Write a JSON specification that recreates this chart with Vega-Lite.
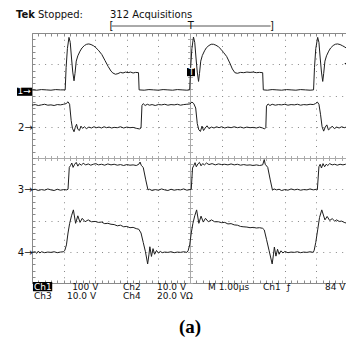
{
"$schema": "https://vega.github.io/schema/vega-lite/v6.json",
"width": 316, "height": 250,
"autosize": {"type": "none"},
"padding": {"left": 32, "top": 33, "right": 0, "bottom": 54},
"background": "white",
"config": {"view": {"stroke": null}, "axis": {"labels": false, "grid": false, "domainColor": "#8a8a8a", "tickColor": "#8a8a8a", "tickSize": 3, "domainWidth": 1, "tickWidth": 1}},
"datasets": {
"traces": [
{"ch":"1","t":0,"v":2.18},{"ch":"1","t":0.15,"v":2.17},{"ch":"1","t":0.3,"v":2.19},{"ch":"1","t":0.45,"v":2.18},{"ch":"1","t":0.6,"v":2.17},{"ch":"1","t":0.75,"v":2.19},{"ch":"1","t":0.9,"v":2.18},{"ch":"1","t":1.05,"v":2.18},
{"ch":"1","t":1.08,"v":2.9},{"ch":"1","t":1.12,"v":3.5},{"ch":"1","t":1.17,"v":3.86},{"ch":"1","t":1.21,"v":3.7},{"ch":"1","t":1.25,"v":3.2},{"ch":"1","t":1.29,"v":2.75},{"ch":"1","t":1.33,"v":2.47},{"ch":"1","t":1.36,"v":2.7},{"ch":"1","t":1.4,"v":3.1},{"ch":"1","t":1.45,"v":3.27},{"ch":"1","t":1.52,"v":3.42},{"ch":"1","t":1.58,"v":3.52},{"ch":"1","t":1.66,"v":3.6},{"ch":"1","t":1.73,"v":3.64},{"ch":"1","t":1.8,"v":3.65},{"ch":"1","t":1.87,"v":3.63},{"ch":"1","t":1.95,"v":3.59},{"ch":"1","t":2.02,"v":3.53},{"ch":"1","t":2.1,"v":3.45},{"ch":"1","t":2.21,"v":3.31},{"ch":"1","t":2.31,"v":3.12},{"ch":"1","t":2.41,"v":2.93},{"ch":"1","t":2.5,"v":2.78},{"ch":"1","t":2.56,"v":2.72},{"ch":"1","t":2.64,"v":2.68},{"ch":"1","t":2.72,"v":2.7},{"ch":"1","t":2.8,"v":2.74},{"ch":"1","t":2.88,"v":2.72},{"ch":"1","t":2.96,"v":2.75},{"ch":"1","t":3.04,"v":2.73},{"ch":"1","t":3.12,"v":2.75},{"ch":"1","t":3.2,"v":2.72},{"ch":"1","t":3.28,"v":2.74},{"ch":"1","t":3.37,"v":2.73},{"ch":"1","t":3.39,"v":2.18},
{"ch":"1","t":3.55,"v":2.17},{"ch":"1","t":3.7,"v":2.19},{"ch":"1","t":3.85,"v":2.18},{"ch":"1","t":4.0,"v":2.17},{"ch":"1","t":4.15,"v":2.19},{"ch":"1","t":4.3,"v":2.18},{"ch":"1","t":4.45,"v":2.17},{"ch":"1","t":4.6,"v":2.19},{"ch":"1","t":4.75,"v":2.18},{"ch":"1","t":4.9,"v":2.17},{"ch":"1","t":4.99,"v":2.18},
{"ch":"1","t":5.02,"v":2.9},{"ch":"1","t":5.06,"v":3.5},{"ch":"1","t":5.11,"v":3.87},{"ch":"1","t":5.15,"v":3.7},{"ch":"1","t":5.19,"v":3.2},{"ch":"1","t":5.23,"v":2.75},{"ch":"1","t":5.27,"v":2.45},{"ch":"1","t":5.3,"v":2.7},{"ch":"1","t":5.34,"v":3.1},{"ch":"1","t":5.39,"v":3.28},{"ch":"1","t":5.46,"v":3.43},{"ch":"1","t":5.52,"v":3.53},{"ch":"1","t":5.6,"v":3.6},{"ch":"1","t":5.67,"v":3.64},{"ch":"1","t":5.74,"v":3.64},{"ch":"1","t":5.82,"v":3.61},{"ch":"1","t":5.9,"v":3.56},{"ch":"1","t":5.98,"v":3.48},{"ch":"1","t":6.06,"v":3.38},{"ch":"1","t":6.16,"v":3.25},{"ch":"1","t":6.26,"v":3.04},{"ch":"1","t":6.34,"v":2.85},{"ch":"1","t":6.42,"v":2.73},{"ch":"1","t":6.5,"v":2.71},{"ch":"1","t":6.6,"v":2.74},{"ch":"1","t":6.7,"v":2.73},{"ch":"1","t":6.8,"v":2.75},{"ch":"1","t":6.9,"v":2.74},{"ch":"1","t":7.0,"v":2.75},{"ch":"1","t":7.1,"v":2.73},{"ch":"1","t":7.2,"v":2.74},{"ch":"1","t":7.3,"v":2.73},{"ch":"1","t":7.32,"v":2.18},
{"ch":"1","t":7.45,"v":2.17},{"ch":"1","t":7.6,"v":2.19},{"ch":"1","t":7.75,"v":2.18},{"ch":"1","t":7.9,"v":2.17},{"ch":"1","t":8.05,"v":2.19},{"ch":"1","t":8.2,"v":2.18},{"ch":"1","t":8.35,"v":2.17},{"ch":"1","t":8.5,"v":2.19},{"ch":"1","t":8.65,"v":2.18},{"ch":"1","t":8.8,"v":2.17},{"ch":"1","t":8.91,"v":2.18},
{"ch":"1","t":8.94,"v":2.9},{"ch":"1","t":8.98,"v":3.5},{"ch":"1","t":9.04,"v":3.86},{"ch":"1","t":9.08,"v":3.7},{"ch":"1","t":9.12,"v":3.2},{"ch":"1","t":9.16,"v":2.75},{"ch":"1","t":9.2,"v":2.45},{"ch":"1","t":9.23,"v":2.7},{"ch":"1","t":9.27,"v":3.1},{"ch":"1","t":9.32,"v":3.27},{"ch":"1","t":9.39,"v":3.42},{"ch":"1","t":9.45,"v":3.52},{"ch":"1","t":9.53,"v":3.6},{"ch":"1","t":9.6,"v":3.64},{"ch":"1","t":9.67,"v":3.65},{"ch":"1","t":9.75,"v":3.63},{"ch":"1","t":9.83,"v":3.59},{"ch":"1","t":9.9,"v":3.55},{"ch":"1","t":10.0,"v":3.48},
{"ch":"2","t":0,"v":1.69},{"ch":"2","t":0.1,"v":1.71},{"ch":"2","t":0.2,"v":1.68},{"ch":"2","t":0.3,"v":1.7},{"ch":"2","t":0.4,"v":1.72},{"ch":"2","t":0.5,"v":1.69},{"ch":"2","t":0.6,"v":1.7},{"ch":"2","t":0.7,"v":1.68},{"ch":"2","t":0.8,"v":1.71},{"ch":"2","t":0.9,"v":1.7},{"ch":"2","t":1.0,"v":1.72},{"ch":"2","t":1.08,"v":1.74},{"ch":"2","t":1.14,"v":1.8},{"ch":"2","t":1.19,"v":1.72},{"ch":"2","t":1.24,"v":1.2},{"ch":"2","t":1.28,"v":0.95},{"ch":"2","t":1.33,"v":0.84},{"ch":"2","t":1.37,"v":0.98},{"ch":"2","t":1.41,"v":1.08},{"ch":"2","t":1.45,"v":0.92},{"ch":"2","t":1.5,"v":0.88},{"ch":"2","t":1.55,"v":1.02},{"ch":"2","t":1.6,"v":0.95},{"ch":"2","t":1.66,"v":1.0},{"ch":"2","t":1.72,"v":0.94},{"ch":"2","t":1.8,"v":0.99},{"ch":"2","t":1.88,"v":0.96},{"ch":"2","t":1.96,"v":1.0},{"ch":"2","t":2.04,"v":0.97},{"ch":"2","t":2.12,"v":0.99},{"ch":"2","t":2.2,"v":0.96},{"ch":"2","t":2.28,"v":1.0},{"ch":"2","t":2.36,"v":0.97},{"ch":"2","t":2.44,"v":0.99},{"ch":"2","t":2.52,"v":0.96},{"ch":"2","t":2.6,"v":0.98},{"ch":"2","t":2.7,"v":0.97},{"ch":"2","t":2.8,"v":1.0},{"ch":"2","t":2.9,"v":0.96},{"ch":"2","t":3.0,"v":0.99},{"ch":"2","t":3.1,"v":0.97},{"ch":"2","t":3.2,"v":0.98},{"ch":"2","t":3.3,"v":0.95},{"ch":"2","t":3.4,"v":0.93},{"ch":"2","t":3.45,"v":0.96},{"ch":"2","t":3.48,"v":1.68},{"ch":"2","t":3.52,"v":1.74},{"ch":"2","t":3.58,"v":1.68},{"ch":"2","t":3.65,"v":1.72},{"ch":"2","t":3.72,"v":1.69},{"ch":"2","t":3.8,"v":1.71},{"ch":"2","t":3.9,"v":1.68},{"ch":"2","t":4.0,"v":1.71},{"ch":"2","t":4.1,"v":1.7},{"ch":"2","t":4.2,"v":1.72},{"ch":"2","t":4.3,"v":1.69},{"ch":"2","t":4.4,"v":1.71},{"ch":"2","t":4.5,"v":1.7},{"ch":"2","t":4.6,"v":1.72},{"ch":"2","t":4.7,"v":1.69},{"ch":"2","t":4.8,"v":1.71},{"ch":"2","t":4.9,"v":1.72},{"ch":"2","t":5.0,"v":1.73},{"ch":"2","t":5.06,"v":1.79},{"ch":"2","t":5.12,"v":1.74},{"ch":"2","t":5.18,"v":1.6},{"ch":"2","t":5.23,"v":1.1},{"ch":"2","t":5.28,"v":0.9},{"ch":"2","t":5.33,"v":0.85},{"ch":"2","t":5.38,"v":1.02},{"ch":"2","t":5.43,"v":0.88},{"ch":"2","t":5.48,"v":0.96},{"ch":"2","t":5.54,"v":1.03},{"ch":"2","t":5.6,"v":0.94},{"ch":"2","t":5.68,"v":0.99},{"ch":"2","t":5.76,"v":0.96},{"ch":"2","t":5.84,"v":1.0},{"ch":"2","t":5.92,"v":0.97},{"ch":"2","t":6.0,"v":1.0},{"ch":"2","t":6.1,"v":0.96},{"ch":"2","t":6.2,"v":0.99},{"ch":"2","t":6.3,"v":0.97},{"ch":"2","t":6.4,"v":1.0},{"ch":"2","t":6.5,"v":0.97},{"ch":"2","t":6.6,"v":0.99},{"ch":"2","t":6.7,"v":0.96},{"ch":"2","t":6.8,"v":0.99},{"ch":"2","t":6.9,"v":0.97},{"ch":"2","t":7.0,"v":0.98},{"ch":"2","t":7.1,"v":0.96},{"ch":"2","t":7.2,"v":0.99},{"ch":"2","t":7.3,"v":0.96},{"ch":"2","t":7.36,"v":0.93},{"ch":"2","t":7.4,"v":0.98},{"ch":"2","t":7.42,"v":1.66},{"ch":"2","t":7.47,"v":1.73},{"ch":"2","t":7.53,"v":1.68},{"ch":"2","t":7.6,"v":1.72},{"ch":"2","t":7.7,"v":1.69},{"ch":"2","t":7.8,"v":1.71},{"ch":"2","t":7.9,"v":1.7},{"ch":"2","t":8.0,"v":1.72},{"ch":"2","t":8.1,"v":1.69},{"ch":"2","t":8.2,"v":1.71},{"ch":"2","t":8.3,"v":1.7},{"ch":"2","t":8.4,"v":1.72},{"ch":"2","t":8.5,"v":1.69},{"ch":"2","t":8.6,"v":1.71},{"ch":"2","t":8.7,"v":1.7},{"ch":"2","t":8.8,"v":1.72},{"ch":"2","t":8.9,"v":1.71},{"ch":"2","t":8.97,"v":1.74},{"ch":"2","t":9.03,"v":1.79},{"ch":"2","t":9.08,"v":1.72},{"ch":"2","t":9.13,"v":1.4},{"ch":"2","t":9.18,"v":1.0},{"ch":"2","t":9.23,"v":0.86},{"ch":"2","t":9.28,"v":0.99},{"ch":"2","t":9.33,"v":1.06},{"ch":"2","t":9.38,"v":0.9},{"ch":"2","t":9.44,"v":0.95},{"ch":"2","t":9.5,"v":1.02},{"ch":"2","t":9.57,"v":0.94},{"ch":"2","t":9.64,"v":0.99},{"ch":"2","t":9.72,"v":0.96},{"ch":"2","t":9.8,"v":1.0},{"ch":"2","t":9.88,"v":0.97},{"ch":"2","t":9.95,"v":0.99},{"ch":"2","t":10.0,"v":0.98},
{"ch":"3","t":0,"v":-1.02},{"ch":"3","t":0.1,"v":-1.0},{"ch":"3","t":0.2,"v":-1.04},{"ch":"3","t":0.3,"v":-1.01},{"ch":"3","t":0.4,"v":-1.03},{"ch":"3","t":0.5,"v":-0.99},{"ch":"3","t":0.6,"v":-1.02},{"ch":"3","t":0.7,"v":-1.04},{"ch":"3","t":0.8,"v":-1.0},{"ch":"3","t":0.9,"v":-1.03},{"ch":"3","t":1.0,"v":-1.01},{"ch":"3","t":1.1,"v":-1.02},{"ch":"3","t":1.14,"v":-1.0},{"ch":"3","t":1.18,"v":-0.3},{"ch":"3","t":1.22,"v":-0.24},{"ch":"3","t":1.26,"v":-0.16},{"ch":"3","t":1.3,"v":-0.3},{"ch":"3","t":1.35,"v":-0.2},{"ch":"3","t":1.4,"v":-0.14},{"ch":"3","t":1.45,"v":-0.26},{"ch":"3","t":1.5,"v":-0.18},{"ch":"3","t":1.56,"v":-0.23},{"ch":"3","t":1.62,"v":-0.17},{"ch":"3","t":1.7,"v":-0.22},{"ch":"3","t":1.78,"v":-0.19},{"ch":"3","t":1.86,"v":-0.23},{"ch":"3","t":1.94,"v":-0.2},{"ch":"3","t":2.02,"v":-0.18},{"ch":"3","t":2.1,"v":-0.22},{"ch":"3","t":2.2,"v":-0.2},{"ch":"3","t":2.3,"v":-0.23},{"ch":"3","t":2.4,"v":-0.19},{"ch":"3","t":2.5,"v":-0.22},{"ch":"3","t":2.6,"v":-0.2},{"ch":"3","t":2.7,"v":-0.23},{"ch":"3","t":2.8,"v":-0.21},{"ch":"3","t":2.9,"v":-0.24},{"ch":"3","t":3.0,"v":-0.21},{"ch":"3","t":3.1,"v":-0.23},{"ch":"3","t":3.2,"v":-0.22},{"ch":"3","t":3.3,"v":-0.24},{"ch":"3","t":3.38,"v":-0.2},{"ch":"3","t":3.42,"v":-0.13},{"ch":"3","t":3.46,"v":-0.24},{"ch":"3","t":3.52,"v":-0.3},{"ch":"3","t":3.6,"v":-0.7},{"ch":"3","t":3.67,"v":-1.02},{"ch":"3","t":3.72,"v":-1.0},{"ch":"3","t":3.8,"v":-1.04},{"ch":"3","t":3.9,"v":-1.01},{"ch":"3","t":4.0,"v":-1.03},{"ch":"3","t":4.1,"v":-0.99},{"ch":"3","t":4.2,"v":-1.02},{"ch":"3","t":4.3,"v":-1.04},{"ch":"3","t":4.4,"v":-1.0},{"ch":"3","t":4.5,"v":-1.03},{"ch":"3","t":4.6,"v":-1.01},{"ch":"3","t":4.7,"v":-1.02},{"ch":"3","t":4.8,"v":-0.99},{"ch":"3","t":4.9,"v":-1.03},{"ch":"3","t":5.0,"v":-1.01},{"ch":"3","t":5.04,"v":-1.0},{"ch":"3","t":5.08,"v":-0.32},{"ch":"3","t":5.12,"v":-0.24},{"ch":"3","t":5.16,"v":-0.15},{"ch":"3","t":5.2,"v":-0.28},{"ch":"3","t":5.25,"v":-0.19},{"ch":"3","t":5.3,"v":-0.14},{"ch":"3","t":5.35,"v":-0.25},{"ch":"3","t":5.4,"v":-0.18},{"ch":"3","t":5.46,"v":-0.22},{"ch":"3","t":5.52,"v":-0.16},{"ch":"3","t":5.6,"v":-0.21},{"ch":"3","t":5.7,"v":-0.18},{"ch":"3","t":5.8,"v":-0.22},{"ch":"3","t":5.9,"v":-0.19},{"ch":"3","t":6.0,"v":-0.21},{"ch":"3","t":6.1,"v":-0.2},{"ch":"3","t":6.2,"v":-0.22},{"ch":"3","t":6.3,"v":-0.19},{"ch":"3","t":6.4,"v":-0.22},{"ch":"3","t":6.5,"v":-0.2},{"ch":"3","t":6.6,"v":-0.23},{"ch":"3","t":6.7,"v":-0.21},{"ch":"3","t":6.8,"v":-0.23},{"ch":"3","t":6.9,"v":-0.22},{"ch":"3","t":7.0,"v":-0.24},{"ch":"3","t":7.1,"v":-0.22},{"ch":"3","t":7.2,"v":-0.24},{"ch":"3","t":7.3,"v":-0.22},{"ch":"3","t":7.35,"v":-0.05},{"ch":"3","t":7.38,"v":-0.2},{"ch":"3","t":7.46,"v":-0.3},{"ch":"3","t":7.54,"v":-0.7},{"ch":"3","t":7.61,"v":-1.03},{"ch":"3","t":7.66,"v":-0.99},{"ch":"3","t":7.74,"v":-1.02},{"ch":"3","t":7.82,"v":-1.0},{"ch":"3","t":7.9,"v":-1.04},{"ch":"3","t":8.0,"v":-1.01},{"ch":"3","t":8.1,"v":-1.03},{"ch":"3","t":8.2,"v":-0.99},{"ch":"3","t":8.3,"v":-1.02},{"ch":"3","t":8.4,"v":-1.0},{"ch":"3","t":8.5,"v":-1.03},{"ch":"3","t":8.6,"v":-1.01},{"ch":"3","t":8.7,"v":-1.02},{"ch":"3","t":8.8,"v":-0.99},{"ch":"3","t":8.9,"v":-1.02},{"ch":"3","t":9.0,"v":-1.0},{"ch":"3","t":9.03,"v":-1.01},{"ch":"3","t":9.08,"v":-0.28},{"ch":"3","t":9.12,"v":-0.2},{"ch":"3","t":9.16,"v":-0.32},{"ch":"3","t":9.21,"v":-0.18},{"ch":"3","t":9.26,"v":-0.28},{"ch":"3","t":9.31,"v":-0.2},{"ch":"3","t":9.36,"v":-0.24},{"ch":"3","t":9.42,"v":-0.18},{"ch":"3","t":9.5,"v":-0.22},{"ch":"3","t":9.58,"v":-0.2},{"ch":"3","t":9.66,"v":-0.23},{"ch":"3","t":9.75,"v":-0.2},{"ch":"3","t":9.84,"v":-0.22},{"ch":"3","t":9.92,"v":-0.2},{"ch":"3","t":10.0,"v":-0.21},
{"ch":"4","t":0,"v":-3.02},{"ch":"4","t":0.1,"v":-3.0},{"ch":"4","t":0.15,"v":-3.05},{"ch":"4","t":0.2,"v":-2.98},{"ch":"4","t":0.25,"v":-3.04},{"ch":"4","t":0.3,"v":-3.0},{"ch":"4","t":0.4,"v":-3.03},{"ch":"4","t":0.5,"v":-3.01},{"ch":"4","t":0.6,"v":-3.02},{"ch":"4","t":0.7,"v":-3.0},{"ch":"4","t":0.8,"v":-3.03},{"ch":"4","t":0.9,"v":-3.01},{"ch":"4","t":1.0,"v":-3.0},{"ch":"4","t":1.04,"v":-2.95},{"ch":"4","t":1.09,"v":-2.78},{"ch":"4","t":1.14,"v":-2.4},{"ch":"4","t":1.19,"v":-2.1},{"ch":"4","t":1.25,"v":-1.85},{"ch":"4","t":1.31,"v":-1.66},{"ch":"4","t":1.38,"v":-2.09},{"ch":"4","t":1.45,"v":-1.85},{"ch":"4","t":1.52,"v":-2.06},{"ch":"4","t":1.59,"v":-1.93},{"ch":"4","t":1.68,"v":-2.04},{"ch":"4","t":1.78,"v":-1.98},{"ch":"4","t":1.88,"v":-2.04},{"ch":"4","t":2.0,"v":-2.03},{"ch":"4","t":2.1,"v":-2.06},{"ch":"4","t":2.2,"v":-2.05},{"ch":"4","t":2.3,"v":-2.1},{"ch":"4","t":2.4,"v":-2.09},{"ch":"4","t":2.5,"v":-2.12},{"ch":"4","t":2.6,"v":-2.13},{"ch":"4","t":2.7,"v":-2.17},{"ch":"4","t":2.8,"v":-2.15},{"ch":"4","t":2.9,"v":-2.2},{"ch":"4","t":3.0,"v":-2.19},{"ch":"4","t":3.1,"v":-2.23},{"ch":"4","t":3.2,"v":-2.22},{"ch":"4","t":3.3,"v":-2.26},{"ch":"4","t":3.38,"v":-2.28},{"ch":"4","t":3.45,"v":-2.4},{"ch":"4","t":3.52,"v":-2.7},{"ch":"4","t":3.59,"v":-3.0},{"ch":"4","t":3.66,"v":-3.39},{"ch":"4","t":3.7,"v":-3.1},{"ch":"4","t":3.73,"v":-2.84},{"ch":"4","t":3.78,"v":-3.15},{"ch":"4","t":3.83,"v":-2.9},{"ch":"4","t":3.88,"v":-3.08},{"ch":"4","t":3.94,"v":-2.96},{"ch":"4","t":4.0,"v":-3.04},{"ch":"4","t":4.06,"v":-2.99},{"ch":"4","t":4.12,"v":-3.03},{"ch":"4","t":4.2,"v":-3.01},{"ch":"4","t":4.3,"v":-3.02},{"ch":"4","t":4.4,"v":-3.0},{"ch":"4","t":4.5,"v":-3.03},{"ch":"4","t":4.6,"v":-3.01},{"ch":"4","t":4.7,"v":-3.02},{"ch":"4","t":4.8,"v":-3.0},{"ch":"4","t":4.9,"v":-3.02},{"ch":"4","t":4.94,"v":-2.97},{"ch":"4","t":4.99,"v":-2.78},{"ch":"4","t":5.04,"v":-2.4},{"ch":"4","t":5.09,"v":-2.1},{"ch":"4","t":5.15,"v":-1.85},{"ch":"4","t":5.21,"v":-1.66},{"ch":"4","t":5.28,"v":-2.09},{"ch":"4","t":5.35,"v":-1.86},{"ch":"4","t":5.42,"v":-2.05},{"ch":"4","t":5.49,"v":-1.93},{"ch":"4","t":5.58,"v":-2.04},{"ch":"4","t":5.68,"v":-1.98},{"ch":"4","t":5.78,"v":-2.04},{"ch":"4","t":5.9,"v":-2.04},{"ch":"4","t":6.0,"v":-2.07},{"ch":"4","t":6.1,"v":-2.06},{"ch":"4","t":6.2,"v":-2.11},{"ch":"4","t":6.3,"v":-2.1},{"ch":"4","t":6.4,"v":-2.14},{"ch":"4","t":6.5,"v":-2.15},{"ch":"4","t":6.6,"v":-2.19},{"ch":"4","t":6.68,"v":-2.2},{"ch":"4","t":6.8,"v":-2.21},{"ch":"4","t":6.9,"v":-2.23},{"ch":"4","t":7.0,"v":-2.22},{"ch":"4","t":7.1,"v":-2.24},{"ch":"4","t":7.2,"v":-2.23},{"ch":"4","t":7.3,"v":-2.25},{"ch":"4","t":7.35,"v":-2.3},{"ch":"4","t":7.42,"v":-2.6},{"ch":"4","t":7.5,"v":-2.95},{"ch":"4","t":7.6,"v":-3.39},{"ch":"4","t":7.64,"v":-3.1},{"ch":"4","t":7.67,"v":-2.85},{"ch":"4","t":7.72,"v":-3.14},{"ch":"4","t":7.77,"v":-2.92},{"ch":"4","t":7.82,"v":-3.08},{"ch":"4","t":7.88,"v":-2.97},{"ch":"4","t":7.94,"v":-3.04},{"ch":"4","t":8.0,"v":-2.99},{"ch":"4","t":8.1,"v":-3.03},{"ch":"4","t":8.2,"v":-3.01},{"ch":"4","t":8.3,"v":-3.02},{"ch":"4","t":8.4,"v":-3.0},{"ch":"4","t":8.5,"v":-3.03},{"ch":"4","t":8.6,"v":-3.01},{"ch":"4","t":8.7,"v":-3.02},{"ch":"4","t":8.8,"v":-3.0},{"ch":"4","t":8.9,"v":-3.02},{"ch":"4","t":8.93,"v":-2.95},{"ch":"4","t":8.98,"v":-2.7},{"ch":"4","t":9.04,"v":-2.3},{"ch":"4","t":9.1,"v":-1.9},{"ch":"4","t":9.17,"v":-1.66},{"ch":"4","t":9.27,"v":-1.98},{"ch":"4","t":9.34,"v":-1.87},{"ch":"4","t":9.42,"v":-2.0},{"ch":"4","t":9.5,"v":-1.94},{"ch":"4","t":9.58,"v":-2.02},{"ch":"4","t":9.64,"v":-1.98},{"ch":"4","t":9.72,"v":-2.03},{"ch":"4","t":9.8,"v":-2.02},{"ch":"4","t":9.9,"v":-2.07},{"ch":"4","t":10.0,"v":-2.09}
],
"labels": [
{"t":0.19,"v":4.48,"s":"Stopped:"},
{"t":2.468,"v":4.48,"s":"312 Acquisitions"},
{"t":2.45,"v":4.12,"s":"["},
{"t":7.53,"v":4.12,"s":"]"},
{"t":4.93,"v":4.12,"s":"T"},
{"t":-0.44,"v":0.874,"s":"2→"},
{"t":-0.45,"v":-1.13,"s":"3→"},
{"t":-0.45,"v":-3.13,"s":"4→"}
],
"footer": [
{"t":1.27,"v":-4.208,"s":"100 V"},
{"t":2.88,"v":-4.208,"s":"Ch2"},
{"t":3.956,"v":-4.208,"s":"10.0 V"},
{"t":5.57,"v":-4.208,"s":"M 1.00µs"},
{"t":7.31,"v":-4.208,"s":"Ch1"},
{"t":8.07,"v":-4.208,"s":"ƒ"},
{"t":9.272,"v":-4.208,"s":"84 V"},
{"t":0.063,"v":-4.512,"s":"Ch3"},
{"t":1.108,"v":-4.512,"s":"10.0 V"},
{"t":2.88,"v":-4.512,"s":"Ch4"},
{"t":3.956,"v":-4.512,"s":"20.0 VΩ"}
],
"inverse": [
{"t":0.063,"v":-4.208,"s":"Ch1"},
{"t":-0.46,"v":2.04,"s":"1→"},
{"t":4.96,"v":2.65,"s":"T"}
],
"boxes": [
{"t":0.03,"t2":0.64,"v":-3.97,"v2":-4.26},
{"t":-0.475,"t2":0.0,"v":1.99,"v2":2.25},
{"t":4.905,"t2":5.158,"v":2.62,"v2":2.88}
],
"bracket": [{"t":2.52,"t2":7.55,"v":4.224}],
"brand": [{"t":-0.506,"v":4.48,"s":"Tek"}],
"caption": [{"t":5.0,"v":-5.6,"s":"(a)"}],
"trig": [{"t":9.97,"v":3.02}]
},
"layer": [
{
"data": {"name": "traces"},
"mark": {"type": "line", "color": "#1e1e1e", "strokeWidth": 1, "clip": true, "interpolate": "linear"},
"encoding": {
"x": {"field": "t", "type": "quantitative", "scale": {"domain": [0, 10], "nice": false, "zero": false},
"axis": {"orient": "top", "offset": -250, "title": null, "values": [0,0.2,0.4,0.6,0.8,1,1.2,1.4,1.6,1.8,2,2.2,2.4,2.6,2.8,3,3.2,3.4,3.6,3.8,4,4.2,4.4,4.6,4.8,5,5.2,5.4,5.6,5.8,6,6.2,6.4,6.6,6.8,7,7.2,7.4,7.6,7.8,8,8.2,8.4,8.6,8.8,9,9.2,9.4,9.6,9.8,10]}},
"y": {"field": "v", "type": "quantitative", "scale": {"domain": [-4, 4], "nice": false, "zero": false},
"axis": {"orient": "right", "offset": -316, "title": null, "values": [-4,-3.8,-3.6,-3.4,-3.2,-3,-2.8,-2.6,-2.4,-2.2,-2,-1.8,-1.6,-1.4,-1.2,-1,-0.8,-0.6,-0.4,-0.2,0,0.2,0.4,0.6,0.8,1,1.2,1.4,1.6,1.8,2,2.2,2.4,2.6,2.8,3,3.2,3.4,3.6,3.8,4]}},
"detail": {"field": "ch", "type": "nominal"}
}
},
{
"data": {"name": "bracket"},
"mark": {"type": "rule", "color": "#555", "strokeWidth": 1, "clip": false},
"encoding": {
"x": {"field": "t", "type": "quantitative", "scale": {"domain": [0, 10], "nice": false, "zero": false},
"axis": {"orient": "bottom", "offset": -250, "title": null, "values": [0,0.2,0.4,0.6,0.8,1,1.2,1.4,1.6,1.8,2,2.2,2.4,2.6,2.8,3,3.2,3.4,3.6,3.8,4,4.2,4.4,4.6,4.8,5,5.2,5.4,5.6,5.8,6,6.2,6.4,6.6,6.8,7,7.2,7.4,7.6,7.8,8,8.2,8.4,8.6,8.8,9,9.2,9.4,9.6,9.8,10]}},
"x2": {"field": "t2"},
"y": {"field": "v", "type": "quantitative", "scale": {"domain": [-4, 4], "nice": false, "zero": false},
"axis": {"orient": "left", "offset": -158, "title": null, "domainColor": "#aaa", "tickColor": "#aaa", "tickSize": 2.5, "values": [-4,-3.8,-3.6,-3.4,-3.2,-3,-2.8,-2.6,-2.4,-2.2,-2,-1.8,-1.6,-1.4,-1.2,-1,-0.8,-0.6,-0.4,-0.2,0,0.2,0.4,0.6,0.8,1,1.2,1.4,1.6,1.8,2,2.2,2.4,2.6,2.8,3,3.2,3.4,3.6,3.8,4]}}
}
},
{
"data": {"name": "boxes"},
"mark": {"type": "rect", "color": "#000", "clip": false},
"encoding": {
"x": {"field": "t", "type": "quantitative", "scale": {"domain": [0, 10], "nice": false, "zero": false},
"axis": {"orient": "bottom", "offset": -125, "title": null, "domainColor": "#aaa", "tickColor": "#aaa", "tickSize": 2.5, "values": [0,0.2,0.4,0.6,0.8,1,1.2,1.4,1.6,1.8,2,2.2,2.4,2.6,2.8,3,3.2,3.4,3.6,3.8,4,4.2,4.4,4.6,4.8,5,5.2,5.4,5.6,5.8,6,6.2,6.4,6.6,6.8,7,7.2,7.4,7.6,7.8,8,8.2,8.4,8.6,8.8,9,9.2,9.4,9.6,9.8,10]}},
"x2": {"field": "t2"},
"y": {"field": "v", "type": "quantitative", "scale": {"domain": [-4, 4], "nice": false, "zero": false},
"axis": {"orient": "right", "offset": -158, "title": null, "domain": false, "tickColor": "#aaa", "tickSize": 2.5, "values": [-4,-3.8,-3.6,-3.4,-3.2,-3,-2.8,-2.6,-2.4,-2.2,-2,-1.8,-1.6,-1.4,-1.2,-1,-0.8,-0.6,-0.4,-0.2,0,0.2,0.4,0.6,0.8,1,1.2,1.4,1.6,1.8,2,2.2,2.4,2.6,2.8,3,3.2,3.4,3.6,3.8,4]}},
"y2": {"field": "v2"}
}
},
{
"data": {"name": "labels"},
"mark": {"type": "text", "font": "DejaVu Sans", "fontSize": 10, "align": "left", "baseline": "alphabetic", "color": "#111", "clip": false},
"encoding": {
"x": {"field": "t", "type": "quantitative", "scale": {"domain": [0, 10], "nice": false, "zero": false},
"axis": {"orient": "top", "offset": -125, "title": null, "domain": false, "tickColor": "#aaa", "tickSize": 2.5, "values": [0,0.2,0.4,0.6,0.8,1,1.2,1.4,1.6,1.8,2,2.2,2.4,2.6,2.8,3,3.2,3.4,3.6,3.8,4,4.2,4.4,4.6,4.8,5,5.2,5.4,5.6,5.8,6,6.2,6.4,6.6,6.8,7,7.2,7.4,7.6,7.8,8,8.2,8.4,8.6,8.8,9,9.2,9.4,9.6,9.8,10]}},
"y": {"field": "v", "type": "quantitative", "scale": {"domain": [-4, 4], "nice": false, "zero": false},
"axis": {"orient": "left", "title": null, "domain": false, "ticks": false, "grid": true, "gridColor": "#888", "gridDash": [1, 5.32], "gridWidth": 1, "values": [-3, -2, -1, 1, 2, 3]}},
"text": {"field": "s", "type": "nominal"}
}
},
{
"data": {"name": "footer"},
"mark": {"type": "text", "font": "DejaVu Sans", "fontSize": 9, "align": "left", "baseline": "alphabetic", "color": "#111", "clip": false},
"encoding": {
"x": {"field": "t", "type": "quantitative", "scale": {"domain": [0, 10], "nice": false, "zero": false}, "axis": null},
"y": {"field": "v", "type": "quantitative", "scale": {"domain": [-4, 4], "nice": false, "zero": false}, "axis": null},
"text": {"field": "s", "type": "nominal"}
}
},
{
"data": {"name": "inverse"},
"mark": {"type": "text", "font": "DejaVu Sans", "fontSize": 9, "align": "left", "baseline": "alphabetic", "color": "#fff", "clip": false},
"encoding": {
"x": {"field": "t", "type": "quantitative", "scale": {"domain": [0, 10], "nice": false, "zero": false},
"axis": {"orient": "bottom", "title": null, "domain": false, "ticks": false, "grid": true, "gridColor": "#888", "gridDash": [1, 5.25], "gridWidth": 1, "values": [1, 2, 3, 4, 6, 7, 8, 9]}},
"y": {"field": "v", "type": "quantitative", "scale": {"domain": [-4, 4], "nice": false, "zero": false}, "axis": null},
"text": {"field": "s", "type": "nominal"}
}
},
{
"data": {"name": "brand"},
"mark": {"type": "text", "font": "DejaVu Sans", "fontSize": 10, "fontWeight": "bold", "align": "left", "baseline": "alphabetic", "color": "#111", "clip": false},
"encoding": {
"x": {"field": "t", "type": "quantitative", "scale": {"domain": [0, 10], "nice": false, "zero": false}, "axis": null},
"y": {"field": "v", "type": "quantitative", "scale": {"domain": [-4, 4], "nice": false, "zero": false}, "axis": null},
"text": {"field": "s", "type": "nominal"}
}
},
{
"data": {"name": "caption"},
"mark": {"type": "text", "font": "Liberation Serif", "fontSize": 19, "fontWeight": "bold", "align": "center", "baseline": "alphabetic", "color": "#000", "clip": false},
"encoding": {
"x": {"field": "t", "type": "quantitative", "scale": {"domain": [0, 10], "nice": false, "zero": false}, "axis": null},
"y": {"field": "v", "type": "quantitative", "scale": {"domain": [-4, 4], "nice": false, "zero": false}, "axis": null},
"text": {"field": "s", "type": "nominal"}
}
},
{
"data": {"name": "trig"},
"mark": {"type": "point", "shape": "triangle-left", "filled": true, "color": "#000", "size": 40, "opacity": 1, "clip": false},
"encoding": {
"x": {"field": "t", "type": "quantitative", "scale": {"domain": [0, 10], "nice": false, "zero": false}, "axis": null},
"y": {"field": "v", "type": "quantitative", "scale": {"domain": [-4, 4], "nice": false, "zero": false}, "axis": null}
}
}
],
"resolve": {"axis": {"x": "independent", "y": "independent"}}
}
